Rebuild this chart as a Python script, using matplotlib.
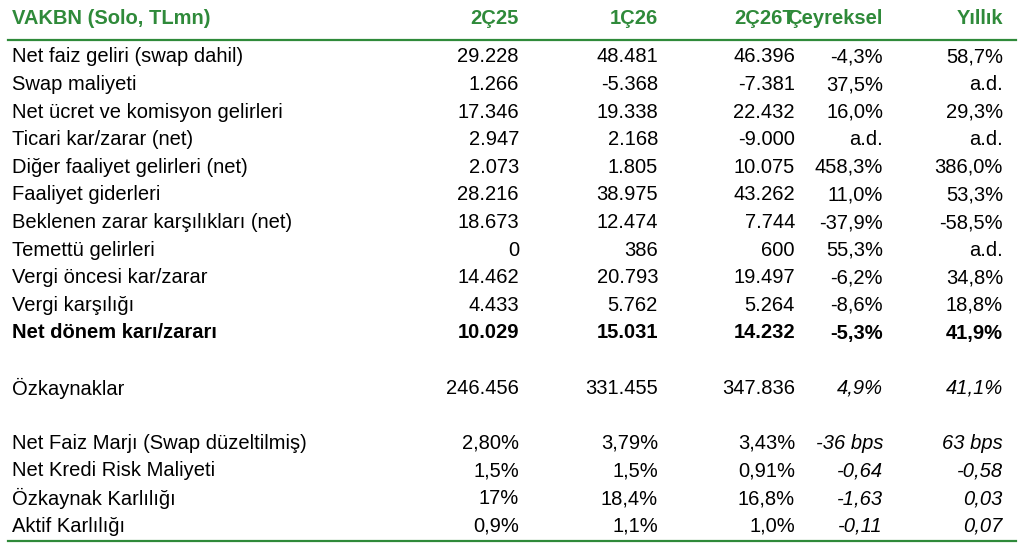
import matplotlib.pyplot as plt

green = '#2f8a3a'
header = ['VAKBN (Solo, TLmn)', '2Ç25', '1Ç26', '2Ç26T', 'Çeyreksel', 'Yıllık']
labels = ['Net faiz geliri (swap dahil)', 'Swap maliyeti', 'Net ücret ve komisyon gelirleri',
          'Ticari kar/zarar (net)', 'Diğer faaliyet gelirleri (net)', 'Faaliyet giderleri',
          'Beklenen zarar karşılıkları (net)', 'Temettü gelirleri', 'Vergi öncesi kar/zarar',
          'Vergi karşılığı', 'Net dönem karı/zararı', '',
          'Özkaynaklar', '',
          'Net Faiz Marjı (Swap düzeltilmiş)', 'Net Kredi Risk Maliyeti',
          'Özkaynak Karlılığı', 'Aktif Karlılığı']
q225 = ['29.228', '1.266', '17.346', '2.947', '2.073', '28.216', '18.673', '0', '14.462', '4.433',
        '10.029', '', '246.456', '', '2,80%', '1,5%', '17%', '0,9%']
q126 = ['48.481', '-5.368', '19.338', '2.168', '1.805', '38.975', '12.474', '386', '20.793', '5.762',
        '15.031', '', '331.455', '', '3,79%', '1,5%', '18,4%', '1,1%']
q226 = ['46.396', '-7.381', '22.432', '-9.000', '10.075', '43.262', '7.744', '600', '19.497', '5.264',
        '14.232', '', '347.836', '', '3,43%', '0,91%', '16,8%', '1,0%']
qoq = ['-4,3%', '37,5%', '16,0%', 'a.d.', '458,3%', '11,0%', '-37,9%', '55,3%', '-6,2%', '-8,6%',
       '-5,3%', '', '4,9%', '', '-36 bps', '-0,64', '-1,63', '-0,11']
yoy = ['58,7%', 'a.d.', '29,3%', 'a.d.', '386,0%', '53,3%', '-58,5%', 'a.d.', '34,8%', '18,8%',
       '41,9%', '', '41,1%', '', '63 bps', '-0,58', '0,03', '0,07']

W, H = 1024, 545
fig = plt.figure(figsize=(W / 100, H / 100), dpi=100)
ax = fig.add_axes([0, 0, 1, 1])
ax.set_xlim(0, W)
ax.set_ylim(H, 0)
ax.axis('off')
plt.rcParams['font.family'] = ['Liberation Sans', 'DejaVu Sans']

col_x = [12, 519, 658, 795, 883, 1003]
fs = 14.5
ax.text(col_x[0], 19, header[0], color=green, fontsize=fs, weight='bold', va='center')
for x, h in zip(col_x[1:], header[1:]):
    ax.text(x, 19, h, color=green, fontsize=fs, weight='bold', va='center', ha='right')
ax.plot([8, 1016], [40, 40], color=green, lw=1.6)
ax.plot([8, 1016], [541, 541], color=green, lw=1.6)

row_h = 27.6
for i, lab in enumerate(labels):
    y = 57 + i * row_h
    bold = lab == 'Net dönem karı/zararı'
    w = 'bold' if bold else 'normal'
    ax.text(col_x[0], y, lab, fontsize=fs, weight=w, va='center')
    for j, col in enumerate([q225, q126, q226, qoq, yoy]):
        style = 'italic' if (j >= 3 and i >= 12) else 'normal'
        ax.text(col_x[j + 1], y, col[i], fontsize=fs, weight=w, style=style,
                va='center', ha='right')

fig.savefig('out.png', dpi=100)
